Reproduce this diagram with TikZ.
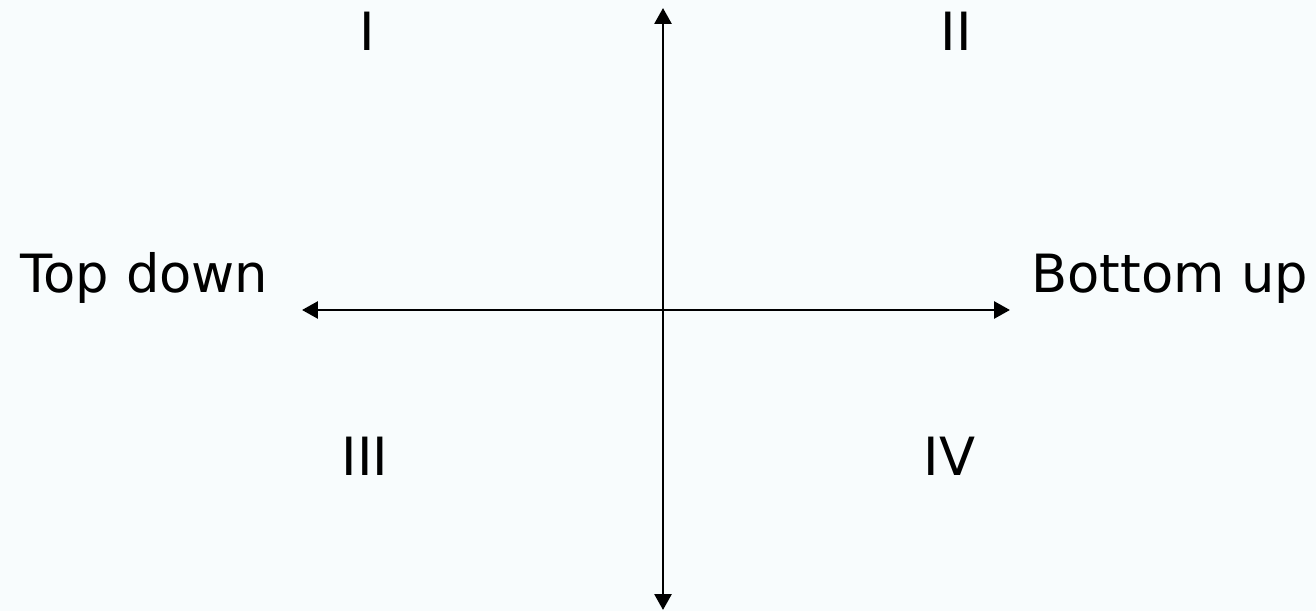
\documentclass[tikz,border=0pt]{standalone}
\usepackage{fontspec}
\setmainfont{DejaVu Sans}
\usepackage{xcolor}
\usepackage{tikz}
\usetikzlibrary{arrows.meta}
\definecolor{paleblue}{RGB}{248,252,253}

\begin{document}
\begin{tikzpicture}[
    x=0.02cm, y=-0.02cm,
    label/.style={inner sep=0pt, font=\fontsize{30}{36}\selectfont, anchor=base},
    axis/.style={{Triangle[length=0.32cm,width=0.34cm]}-{Triangle[length=0.32cm,width=0.34cm]},
                 line width=1.6pt, black}
]
    \fill[paleblue] (0,0) rectangle (1316,611);
    \useasboundingbox (0,0) rectangle (1316,611);

    \coordinate (top) at (663,8);
    \coordinate (bottom) at (663,610);
    \coordinate (left) at (302,310);
    \coordinate (right) at (1010,310);

    \node[label] (q1) at (367,51) {I};
    \node[label] (q2) at (956,51) {II};
    \node[label] (q3) at (365,475) {III};
    \node[label] (q4) at (949.5,475) {IV};
    \node[label, anchor=base west] (td) at (20,293) {Top down};
    \node[label, anchor=base west] (bu) at (1031,293) {Bottom up};

    \draw[axis] (left) -- (right);
    \draw[axis] (bottom) -- (top);
\end{tikzpicture}
\end{document}
